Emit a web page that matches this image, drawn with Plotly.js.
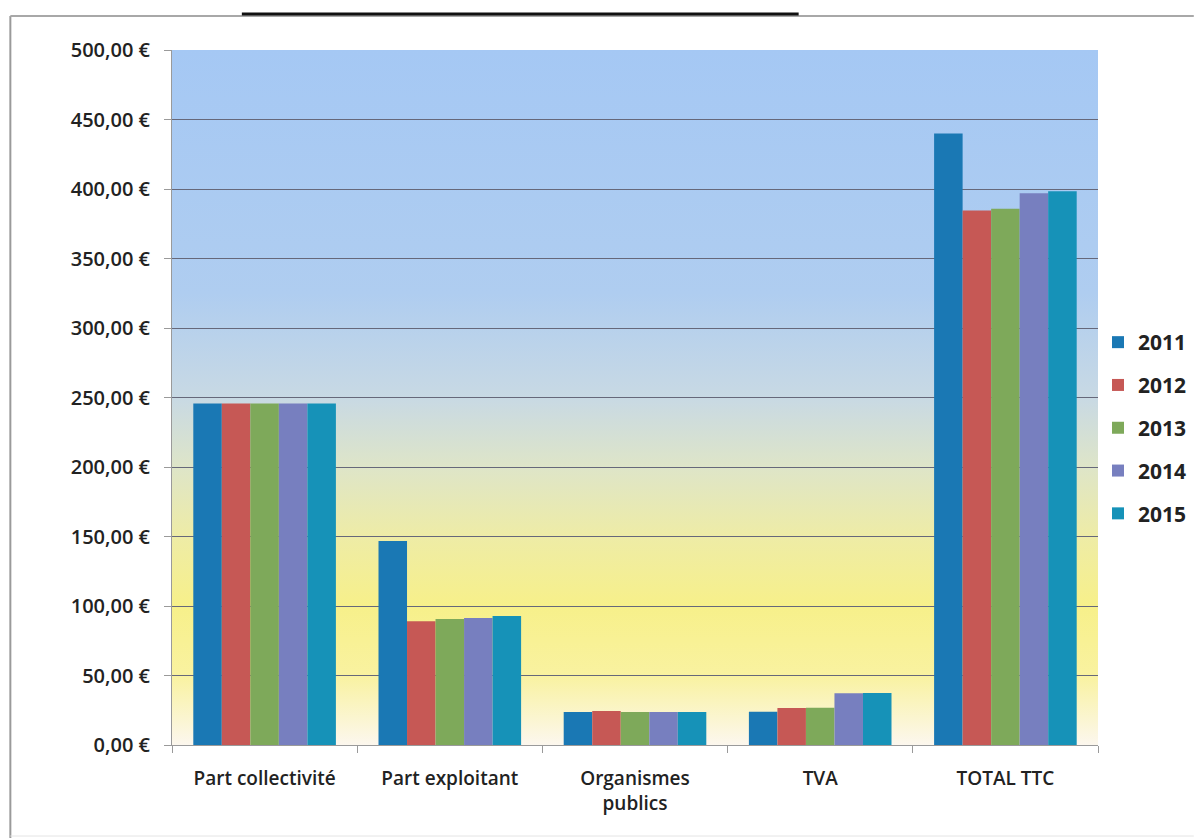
<!DOCTYPE html>
<html>
<head>
<meta charset="utf-8">
<script src="https://cdn.plot.ly/plotly-3.0.1.min.js"></script>
<style>
html,body{margin:0;padding:0;background:#fff;}
#chart{width:1196px;height:838px;}
</style>
</head>
<body>
<div id="chart"></div>
<script>
const categories = ["Part collectivité", "Part exploitant", "Organismes<br>publics", "TVA", "TOTAL TTC"];
const years = ["2011", "2012", "2013", "2014", "2015"];
const v2011 = [245.6, 146.8, 23.8, 24.0, 440.0];
const v2012 = [245.6, 89.0, 24.5, 26.6, 384.5];
const v2013 = [245.6, 90.6, 23.8, 26.8, 385.8];
const v2014 = [245.6, 91.4, 23.8, 37.3, 397.0];
const v2015 = [245.6, 92.8, 23.8, 37.5, 398.3];
const seriesValues = [v2011, v2012, v2013, v2014, v2015];
const yTickValues = [0, 50, 100, 150, 200, 250, 300, 350, 400, 450, 500];
const yTickLabels = ["0,00 €", "50,00 €", "100,00 €", "150,00 €", "200,00 €", "250,00 €", "300,00 €", "350,00 €", "400,00 €", "450,00 €", "500,00 €"];
const colors = ["#1a78b4", "#c65855", "#7ea95a", "#777fbf", "#1692b8"];

const traces = years.map((y, i) => ({
  type: "bar",
  name: y,
  x: categories,
  y: seriesValues[i],
  marker: {color: colors[i], line: {width: 0}},
  legendgroup: "g" + i,
  hoverinfo: "x+y+name"
}));

const svg = '<svg xmlns="http://www.w3.org/2000/svg" width="100" height="100" preserveAspectRatio="none">' +
  '<defs><linearGradient id="g" x1="0" y1="0" x2="0" y2="1">' +
  '<stop offset="0" stop-color="#a5c8f4"/>' +
  '<stop offset="0.35" stop-color="#afcdf0"/>' +
  '<stop offset="0.5" stop-color="#c8d9e4"/>' +
  '<stop offset="0.6" stop-color="#dee5c8"/>' +
  '<stop offset="0.7" stop-color="#eeeca6"/>' +
  '<stop offset="0.8" stop-color="#f7f08a"/>' +
  '<stop offset="0.9" stop-color="#f9f2a0"/>' +
  '<stop offset="1" stop-color="#fcf7ee"/>' +
  '</linearGradient></defs><rect width="100" height="100" fill="url(#g)"/></svg>';
const bgSrc = "data:image/svg+xml;charset=utf-8," + encodeURIComponent(svg);

const W = 1196, H = 838;
const L = 172, R = 1100, T = 50, B = 745;
const px = v => (v - L) / (R - L);
const py = v => (B - v) / (B - T);

const layout = {
  width: W, height: H,
  margin: {l: L, r: W - R, t: T, b: H - B, pad: 0},
  paper_bgcolor: "#ffffff",
  plot_bgcolor: "rgba(0,0,0,0)",
  font: {family: "Open Sans, Liberation Sans, sans-serif", color: "#222", size: 15},
  barmode: "group",
  bargap: 0.23,
  bargroupgap: 0,
  showlegend: true,
  legend: {
    xref: "container", yref: "container",
    x: 1098 / W, y: 1 - 428 / H, xanchor: "left", yanchor: "middle",
    font: {size: 21, color: "#222", family: "Open Sans, Liberation Sans, sans-serif", weight: "bold"},
    bgcolor: "rgba(0,0,0,0)",
    traceorder: "grouped",
    tracegroupgap: 12.5,
    itemwidth: 30
  },
  xaxis: {
    type: "category",
    showgrid: false,
    showline: true, linecolor: "#9a9a9a", linewidth: 1,
    ticks: "outside", tickson: "boundaries", ticklen: 7, tickcolor: "#9a9a9a",
    tickfont: {size: 19, color: "#222", weight: 600},
    ticklabelstandoff: 16,
    zeroline: false
  },
  yaxis: {
    range: [0, 500],
    tickvals: yTickValues,
    ticktext: yTickLabels,
    showgrid: true, gridcolor: "#66687a", gridwidth: 1,
    showline: true, linecolor: "#9a9a9a", linewidth: 1,
    ticks: "outside", ticklen: 7, tickcolor: "#9a9a9a",
    tickfont: {size: 20, color: "#222", weight: 600},
    ticklabelstandoff: 10,
    zeroline: false
  },
  images: [{
    source: bgSrc, xref: "paper", yref: "paper",
    x: 0, y: 1, sizex: 1, sizey: 1, xanchor: "left", yanchor: "top",
    sizing: "stretch", layer: "below"
  }],
  shapes: [
    {type: "line", xref: "paper", yref: "paper", x0: px(10), x1: px(10), y0: py(16), y1: py(838), line: {color: "#9a9a9a", width: 2}},
    {type: "line", xref: "paper", yref: "paper", x0: px(10), x1: px(1196), y0: py(16), y1: py(16), line: {color: "#a8a8a8", width: 2}},
    {type: "line", xref: "paper", yref: "paper", x0: px(10), x1: px(1196), y0: py(836), y1: py(836), line: {color: "#e4e4e4", width: 1}},
    {type: "line", xref: "paper", yref: "paper", x0: px(242), x1: px(800), y0: py(14), y1: py(14), line: {color: "#111", width: 3}}
  ]
};

Plotly.newPlot("chart", traces, layout, {displayModeBar: false, staticPlot: true});
</script>
</body>
</html>
